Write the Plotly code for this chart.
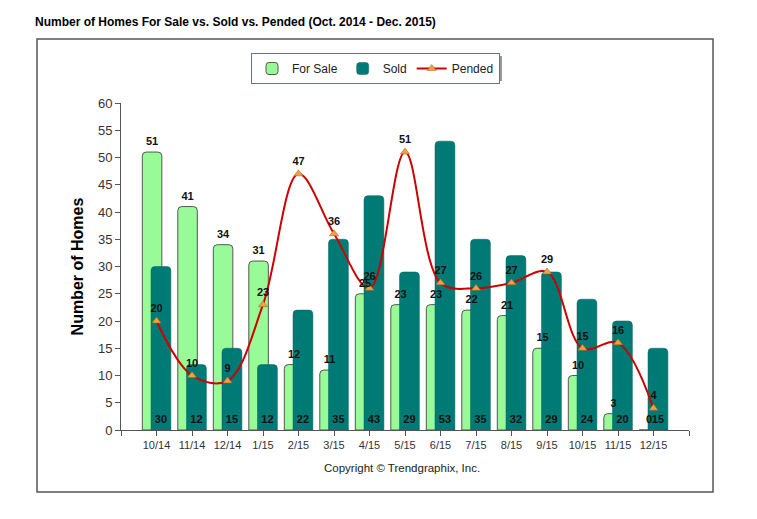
import plotly.graph_objects as go

categories = ["10/14", "11/14", "12/14", "1/15", "2/15", "3/15", "4/15", "5/15",
              "6/15", "7/15", "8/15", "9/15", "10/15", "11/15", "12/15"]
for_sale = [51, 41, 34, 31, 12, 11, 25, 23, 23, 22, 21, 15, 10, 3, 0]
sold = [30, 12, 15, 12, 22, 35, 43, 29, 53, 35, 32, 29, 24, 20, 15]
pended = [20, 10, 9, 23, 47, 36, 26, 51, 27, 26, 27, 29, 15, 16, 4]
y_ticks = list(range(0, 61, 5))

idx = list(range(len(categories)))
W, H = 757, 519
PAGE = 8  # page body margin in the browser
# plot area bounds in screen pixels
SL, SR, ST, SB = 121, 689, 103, 430
L, R, T, B = SL - PAGE, SR - PAGE, ST - PAGE, SB - PAGE


def px_x(p):
    return (p - SL) / (SR - SL)


def px_y(p):
    return (SB - p) / (SB - ST)


FONT = "Liberation Sans, Arial, sans-serif"
GREEN = "#98FB98"
TEAL = "#007A74"
RED = "#CC0000"

fs_off, fs_w = -0.40, 0.55
sd_off, sd_w = -0.155, 0.56
label_font = dict(family=FONT, size=11, color="#111", weight="bold")

fig = go.Figure()
fig.add_trace(go.Bar(
    x=idx, y=for_sale, name="For Sale", offset=fs_off, width=fs_w,
    marker=dict(color=GREEN, line=dict(color="#555555", width=1)),
    hoverinfo="skip"))
fig.add_trace(go.Bar(
    x=idx, y=sold, name="Sold", offset=sd_off, width=sd_w,
    marker=dict(color=TEAL, line=dict(color="#00665f", width=0.5)),
    hoverinfo="skip"))
fig.add_trace(go.Scatter(
    x=idx, y=pended, name="Pended", mode="lines+markers+text",
    line=dict(color=RED, width=2, shape="spline", smoothing=1.0),
    marker=dict(symbol="triangle-up", size=8, color="#F0A040",
                line=dict(color="#a06020", width=0.5)),
    text=[str(v) for v in pended], textposition="top center",
    textfont=label_font, cliponaxis=False))
# bar labels
fig.add_trace(go.Scatter(
    x=[i + fs_off + fs_w / 2 for i in idx], y=for_sale, mode="markers+text",
    marker=dict(size=5, opacity=0),
    text=[str(v) for v in for_sale], textposition="top center",
    textfont=label_font, showlegend=False, cliponaxis=False, hoverinfo="skip"))
fig.add_trace(go.Scatter(
    x=[i + sd_off + sd_w / 2 for i in idx], y=[0] * len(idx), mode="markers+text",
    marker=dict(size=5, opacity=0),
    text=[str(v) for v in sold], textposition="top center",
    textfont=label_font, showlegend=False, cliponaxis=False, hoverinfo="skip"))

# legend box in screen pixels
LG_L, LG_R, LG_T, LG_B = 252, 499, 53, 78

fig.update_layout(
    width=W, height=H,
    margin=dict(l=L, r=W - R, t=T, b=H - B),
    paper_bgcolor="white", plot_bgcolor="white",
    barmode="overlay", barcornerradius=4,
    font=dict(family=FONT, size=11, color="#333"),
    title=dict(text="<b>Number of Homes For Sale vs. Sold vs. Pended (Oct. 2014 - Dec. 2015)</b>",
               x=(35 - PAGE) / W, xref="container", xanchor="left",
               y=1 - (22 - PAGE) / H, yref="container", yanchor="middle",
               font=dict(family=FONT, size=12, color="#000")),
    legend=dict(orientation="h", x=px_x((LG_L + LG_R) / 2), xanchor="center",
                y=px_y(LG_T), yanchor="top",
                bgcolor="white", bordercolor="#6a7488", borderwidth=1,
                font=dict(family=FONT, size=12, color="#222"),
                traceorder="normal"),
    showlegend=True,
    xaxis=dict(range=[-1, 15], tickmode="array",
               tickvals=list(range(-1, len(categories) + 1)),
               ticktext=[""] + categories + [""],
               ticks="outside", ticklen=5, tickcolor="#555",
               showline=True, linecolor="#555", linewidth=1,
               showgrid=False, zeroline=False,
               tickfont=dict(family=FONT, size=11, color="#333")),
    yaxis=dict(range=[0, 60], tickmode="array", tickvals=y_ticks,
               ticks="outside", ticklen=5, tickcolor="#555",
               showline=True, linecolor="#555", linewidth=1,
               showgrid=False, zeroline=False,
               tickfont=dict(family=FONT, size=13, color="#333"),
               title=dict(text="<b>Number of Homes</b>", standoff=10,
                          font=dict(family=FONT, size=16, color="#000"))),
    shapes=[
        dict(type="rect", xref="paper", yref="paper",
             x0=px_x(37), x1=px_x(713), y0=px_y(492), y1=px_y(39),
             line=dict(color="#555", width=1.5), layer="below"),
        dict(type="rect", xref="paper", yref="paper",
             x0=px_x(LG_L + 3), x1=px_x(LG_R + 3), y0=px_y(LG_B + 3), y1=px_y(LG_T + 3),
             line=dict(width=0), fillcolor="#9a9a9a", layer="above"),
    ],
    annotations=[dict(text="Copyright © Trendgraphix, Inc.", xref="paper", yref="paper",
                      x=px_x(402), y=px_y(468), showarrow=False,
                      xanchor="center", yanchor="middle",
                      font=dict(family=FONT, size=11.5, color="#222"))],
)

fig.write_html("out.html")
